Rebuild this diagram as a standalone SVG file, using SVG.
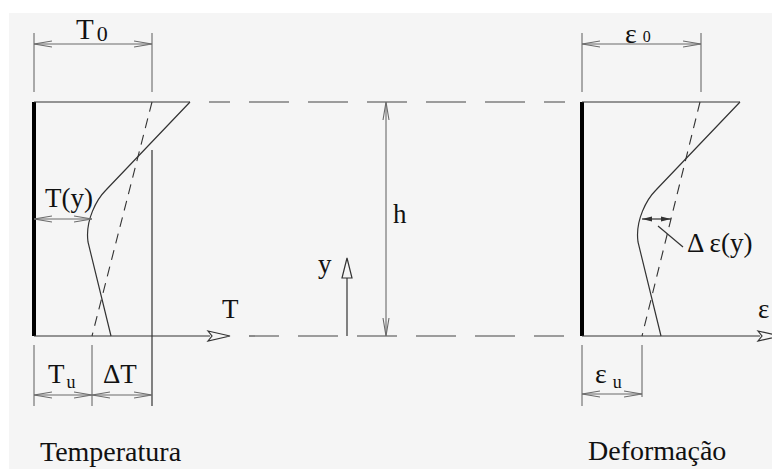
<svg xmlns="http://www.w3.org/2000/svg" width="772" height="469" viewBox="0 0 772 469">
  <style>
    text { font-family: "Liberation Serif", "DejaVu Serif", "Times New Roman", serif; fill: #111; }
    .main { stroke: #333; stroke-width: 1.2; fill: none; }
    .thick { stroke: #000; stroke-width: 4; fill: none; }
    .dim { stroke: #6a6a6a; stroke-width: 1.1; fill: none; }
    .dash { stroke: #444; stroke-width: 1.2; fill: none; stroke-dasharray: 40 19; }
    .sdash { stroke: #333; stroke-width: 1.1; fill: none; stroke-dasharray: 10 7; }
    .hollow { stroke: #333; stroke-width: 1.2; fill: #f5f5f5; }
  </style>
  <defs>
    <marker id="open" viewBox="0 0 18 8" refX="18" refY="4" markerWidth="18" markerHeight="8" markerUnits="userSpaceOnUse" orient="auto-start-reverse">
      <path d="M0,1 L18,4 L0,7" fill="none" stroke="#6a6a6a" stroke-width="1.1"/>
    </marker>
    <marker id="small" viewBox="0 0 10 6" refX="10" refY="3" markerWidth="10" markerHeight="6" markerUnits="userSpaceOnUse" orient="auto-start-reverse">
      <path d="M0,0.5 L10,3 L0,5.5 Z" fill="#333"/>
    </marker>
  </defs>

  <rect x="0" y="0" width="772" height="469" fill="#ffffff"/>
  <rect x="9" y="13" width="763" height="456" fill="#f5f5f5"/>

  <g id="connectors">
    <line class="dash" x1="209" y1="102" x2="565" y2="102" stroke-dashoffset="19"/>
    <line class="dash" x1="249" y1="336" x2="564" y2="336" stroke-dashoffset="10"/>
  </g>

  <g id="temperatura">
    <line class="thick" x1="34" y1="102" x2="34" y2="336"/>
    <line class="main" x1="34" y1="102" x2="190" y2="102"/>
    <line class="main" x1="152" y1="150" x2="152" y2="406"/>
    <line class="main" x1="34" y1="336" x2="210" y2="336"/>
    <polygon class="hollow" points="208,331 230,336 208,341 212,336"/>
    <text x="222" y="318" font-size="27">T</text>
    <line class="sdash" x1="152" y1="102" x2="92" y2="336"/>
    <path class="main" d="M190,102 L106,190 C97,199 85,220 88,242 L111,336"/>
    <line class="dim" x1="34" y1="33" x2="34" y2="92"/>
    <line class="dim" x1="152" y1="33" x2="152" y2="92"/>
    <line class="dim" x1="34" y1="44" x2="152" y2="44" marker-start="url(#open)" marker-end="url(#open)"/>
    <text x="76" y="39" font-size="29">T<tspan font-size="22" dx="3" dy="2">0</tspan></text>
    <line class="dim" x1="34" y1="219" x2="92" y2="219" marker-start="url(#open)" marker-end="url(#open)"/>
    <text x="45" y="207" font-size="27">T(y)</text>
    <line class="dim" x1="34" y1="345" x2="34" y2="406"/>
    <line class="dim" x1="92" y1="345" x2="92" y2="406"/>
    <line class="dim" x1="34" y1="395" x2="92" y2="395" marker-start="url(#open)" marker-end="url(#open)"/>
    <line class="dim" x1="92" y1="395" x2="152" y2="395" marker-start="url(#open)" marker-end="url(#open)"/>
    <text x="48" y="383" font-size="27">T<tspan font-size="18" dx="2" dy="5">u</tspan></text>
    <text x="103" y="383" font-size="27">ΔT</text>
    <text x="40" y="461" font-size="28">Temperatura</text>
  </g>

  <g id="altura">
    <line class="dim" x1="386" y1="102" x2="386" y2="336" marker-start="url(#open)" marker-end="url(#open)"/>
    <text x="393" y="223" font-size="27">h</text>
    <line class="main" x1="347" y1="336" x2="347" y2="278"/>
    <polygon class="hollow" points="347,258 342,278 352,278"/>
    <text x="318" y="273" font-size="27">y</text>
  </g>

  <g id="deformacao">
    <line class="thick" x1="582" y1="102" x2="582" y2="336"/>
    <line class="main" x1="582" y1="102" x2="740" y2="102"/>
    <line class="main" x1="582" y1="336" x2="760" y2="336"/>
    <polygon class="hollow" points="758,331 780,336 758,341 762,336"/>
    <text x="758" y="318" font-size="27">ε</text>
    <line class="sdash" x1="700" y1="102" x2="642" y2="336"/>
    <path class="main" d="M740,102 L656,190 C647,199 635,220 638,242 L661,336"/>
    <line class="dim" x1="582" y1="33" x2="582" y2="92"/>
    <line class="dim" x1="701" y1="33" x2="701" y2="92"/>
    <line class="dim" x1="582" y1="44" x2="701" y2="44" marker-start="url(#open)" marker-end="url(#open)"/>
    <text x="625" y="43" font-size="28">ε<tspan font-size="16" dx="6" dy="-1">0</tspan></text>
    <line class="main" x1="642" y1="219" x2="671" y2="219" marker-start="url(#small)" marker-end="url(#small)"/>
    <line class="main" x1="658" y1="226" x2="683" y2="247"/>
    <text x="687" y="252" font-size="27">Δ ε(y)</text>
    <line class="dim" x1="582" y1="345" x2="582" y2="406"/>
    <line class="dim" x1="642" y1="345" x2="642" y2="397"/>
    <line class="dim" x1="582" y1="394" x2="642" y2="394" marker-start="url(#open)" marker-end="url(#open)"/>
    <text x="595" y="383" font-size="28">ε<tspan font-size="18" dx="6" dy="5">u</tspan></text>
    <text x="588" y="460" font-size="28">Deformação</text>
  </g>
</svg>
